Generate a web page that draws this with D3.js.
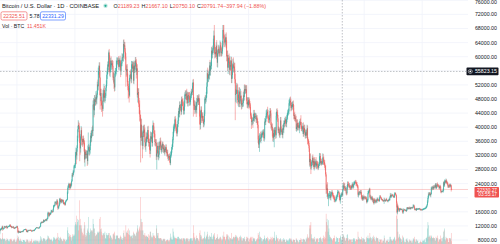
<!DOCTYPE html>
<html>
<head>
<meta charset="utf-8">
<script src="https://cdn.jsdelivr.net/npm/d3@7"></script>
<style>
  html, body { margin: 0; padding: 0; background: #fff; }
  svg { display: block; font-family: "Liberation Sans", Arial, sans-serif; }
</style>
</head>
<body>
<svg id="chart" width="500" height="244"></svg>
<script>
// BTC/USD daily closes, in thousands of USD, 2020-07-27 .. 2023-03-04 (one line per month)
var firstOpen = 9.9;
var closes = [
  11.0,10.9,11.1,11.1,11.4,
  11.8,11.1,11.2,11.2,11.7,11.8,11.6,11.75,11.7,11.9,11.4,11.6,11.8,11.8,11.9,11.9,12.3,12.0,11.75,11.9,11.5,11.7,11.65,11.75,11.35,11.45,11.3,11.55,11.5,11.7,11.65,
  11.9,11.4,10.2,10.5,10.2,10.25,10.4,10.1,10.25,10.35,10.4,10.45,10.3,10.7,10.8,10.95,10.95,10.95,11.1,10.9,10.4,10.55,10.25,10.75,10.7,10.75,10.8,10.7,10.85,10.8,
  10.6,10.55,10.55,10.65,10.8,10.6,10.65,10.9,11.05,11.3,11.4,11.55,11.45,11.45,11.5,11.35,11.35,11.5,11.75,11.9,12.8,13.0,12.95,13.1,13.05,13.05,13.65,13.3,13.45,13.55,13.8,
  13.75,13.55,14.0,14.15,15.6,15.6,14.85,15.5,15.35,15.3,15.7,16.3,16.3,16.05,15.95,16.7,17.65,17.8,17.8,18.7,18.7,18.4,18.35,19.15,18.7,17.15,17.15,17.7,18.2,19.7,
  18.8,19.2,19.45,18.7,19.15,19.35,19.15,18.3,18.55,18.25,18.05,18.8,19.15,19.25,19.45,21.35,22.85,23.1,23.85,23.5,22.75,23.8,23.25,23.7,24.7,26.5,26.3,27.05,27.35,28.9,28.95,
  29.4,32.2,33.0,32.0,34.05,36.8,39.4,40.6,40.25,38.25,35.55,34.0,37.4,39.15,36.8,36.05,35.8,36.65,36.0,35.5,30.85,33.0,32.1,32.3,32.25,32.5,30.4,33.4,34.3,34.3,33.1,
  33.5,35.5,37.6,36.9,38.3,39.25,38.9,46.4,46.5,44.8,47.9,47.4,47.2,48.6,47.9,49.2,52.1,51.6,55.9,55.9,57.4,54.1,48.9,49.7,47.0,46.3,46.2,45.2,
  49.6,48.4,50.5,48.4,48.8,48.9,51.2,52.3,54.9,55.9,57.8,57.2,61.2,59.0,55.6,56.9,58.9,57.6,58.1,58.1,57.4,54.1,54.3,52.3,51.3,55.2,55.8,55.8,57.6,58.8,58.8,
  58.7,59.0,57.1,58.2,59.1,57.9,56.0,58.1,58.1,59.8,59.9,59.8,63.6,62.9,63.2,61.4,60.0,56.2,55.7,56.5,53.8,51.7,51.1,50.1,49.0,54.0,55.0,54.9,53.6,57.8,
  57.8,56.6,57.2,53.2,57.5,56.4,57.3,58.9,58.3,55.8,56.7,49.2,49.7,49.9,46.7,46.4,43.6,42.9,37.0,40.7,37.3,37.5,34.7,38.8,38.4,39.3,38.5,35.7,34.6,35.7,37.3,
  36.7,37.6,39.2,36.9,35.5,35.8,33.6,33.4,37.4,36.7,37.3,35.5,39.1,40.5,40.2,38.3,38.1,35.8,35.5,35.6,31.7,32.5,33.7,34.7,31.6,32.2,34.7,34.5,35.9,35.0,
  33.5,33.8,34.7,35.3,33.7,34.2,33.9,32.9,33.8,33.5,34.3,33.1,32.7,32.8,31.8,31.4,31.5,31.8,30.8,29.8,32.1,32.3,33.6,34.3,35.4,37.3,39.5,40.0,40.0,42.2,41.5,
  39.9,39.2,38.2,39.7,40.9,42.8,44.6,43.8,46.3,45.6,45.6,44.4,47.8,47.1,47.0,45.9,44.7,44.7,46.8,49.3,48.9,49.3,49.5,47.7,48.9,46.9,49.1,48.9,48.8,47.1,47.2,
  48.8,49.3,50.0,49.9,51.8,52.7,46.9,46.1,46.4,44.9,45.2,46.1,44.9,47.1,48.1,47.8,47.3,48.3,47.3,43.0,40.7,43.6,44.9,42.8,42.7,43.2,42.2,41.0,41.5,43.8,
  48.1,47.7,48.2,49.2,51.5,55.3,53.8,53.9,55.0,54.7,57.5,56.0,57.4,57.4,61.7,60.9,61.5,62.0,64.3,66.0,62.2,60.7,61.3,60.9,63.1,60.3,58.3,61.0,62.2,61.8,61.3,
  61.0,63.2,62.9,61.4,61.0,61.5,63.3,67.6,66.9,64.9,64.8,64.1,64.4,65.5,63.6,60.1,60.4,56.9,58.1,59.7,58.7,56.3,57.6,57.2,58.9,53.7,54.8,57.3,57.8,56.9,
  57.2,56.5,53.6,49.2,49.4,50.5,50.6,50.5,47.7,47.1,49.3,50.1,46.7,48.3,48.9,47.6,46.2,46.8,46.7,46.9,49.0,48.6,50.8,50.4,50.8,50.7,50.7,47.5,46.5,47.1,46.2,
  47.7,47.3,46.4,45.8,43.4,43.1,41.5,41.7,41.9,41.8,42.7,43.9,42.6,43.1,43.1,43.1,42.2,42.4,41.7,40.7,36.5,35.1,36.3,36.7,36.95,36.85,37.1,37.7,38.2,37.9,38.5,
  38.7,36.9,37.3,41.6,41.4,42.4,43.8,44.0,44.4,43.5,42.4,42.2,42.1,42.6,44.6,43.9,40.6,40.0,40.1,38.4,37.0,38.3,37.3,38.3,39.2,39.1,37.7,43.2,
  44.4,43.9,42.5,39.1,39.4,38.4,37.9,38.7,41.9,39.4,38.7,38.8,37.8,39.7,39.3,41.1,40.9,41.8,42.2,41.3,41.0,42.4,42.9,44.0,44.3,44.5,46.8,47.1,47.5,47.1,45.5,
  46.3,45.8,46.4,46.6,45.5,43.2,43.4,42.3,42.7,42.2,39.5,40.1,41.2,39.9,40.5,40.4,39.7,40.8,41.5,41.4,40.5,39.7,39.5,39.5,40.4,38.1,39.2,39.7,38.6,37.6,
  38.5,38.5,37.7,39.7,36.5,36.0,35.5,34.0,30.1,31.0,29.1,29.0,29.3,30.1,31.3,29.9,30.4,28.7,30.3,29.2,29.4,30.3,29.1,29.7,29.5,29.2,28.6,29.0,29.4,31.7,31.8,
  29.8,30.4,29.7,29.9,29.9,31.4,31.1,30.2,30.1,29.1,28.4,26.6,22.5,22.2,22.6,20.4,20.5,20.55,20.6,20.7,20.7,20.0,21.1,21.2,21.5,21.0,20.7,20.3,20.1,19.8,
  19.3,19.3,19.3,20.2,20.2,20.5,21.6,21.6,21.6,20.8,19.9,19.3,20.2,20.6,20.8,21.19,20.79,22.4,23.4,23.2,23.2,22.7,22.45,22.6,21.3,21.25,22.95,23.85,23.8,23.65,23.3,
  23.3,22.95,22.8,22.6,23.3,23.15,23.8,23.15,23.15,23.95,23.95,24.4,24.45,24.3,24.1,23.85,23.35,23.2,20.85,21.15,21.5,21.4,21.55,21.35,21.55,20.25,20.05,19.55,20.3,19.8,20.05,
  20.15,19.95,19.85,20.0,19.8,18.8,19.3,19.3,21.35,21.65,21.85,22.4,20.2,20.25,19.7,19.8,20.1,19.4,19.55,18.9,18.5,19.4,19.3,18.9,18.8,19.2,19.1,19.4,19.6,19.4,
  19.3,19.05,19.65,20.35,20.15,19.95,19.55,19.4,19.45,19.15,19.05,19.15,19.4,19.2,19.05,19.25,19.55,19.35,19.15,19.05,19.15,19.2,19.55,19.35,20.1,20.75,20.3,20.6,20.8,20.65,20.5,
  20.5,20.15,20.2,21.15,21.3,20.9,20.6,18.55,15.9,17.6,17.05,16.8,16.35,16.6,16.9,16.65,16.7,16.7,16.7,16.3,15.8,16.25,16.6,16.6,16.5,16.45,16.45,16.2,16.45,17.15,
  16.95,17.1,16.9,17.1,16.95,17.1,16.85,17.2,17.15,17.15,17.1,17.2,17.75,17.8,17.35,16.65,16.75,16.75,16.45,16.9,16.8,16.8,16.8,16.85,16.85,16.9,16.7,16.55,16.65,16.6,16.55,
  16.6,16.7,16.7,16.85,16.85,16.95,16.95,17.1,17.2,17.45,17.95,18.85,19.95,20.95,20.85,21.2,21.15,20.7,21.05,22.65,22.8,22.7,22.9,22.65,23.05,23.0,23.1,23.05,23.75,22.85,23.15,
  23.75,23.5,23.45,23.35,22.95,22.75,23.25,22.95,21.8,21.65,21.85,21.8,21.8,22.2,24.35,23.5,24.55,24.65,24.3,24.85,24.45,24.2,23.95,23.2,23.15,23.55,23.5,23.15,
  23.65,23.45,22.35,22.33
];

// upper / lower wick beyond the body, in hundreds of USD
var upWick = [
  3,2,2,3,2,
  2,3,1,2,2,2,2,1,1,2,2,1,2,1,2,2,1,2,1,1,1,1,1,1,2,1,1,1,1,1,1,
  2,1,1,2,2,1,1,2,1,1,1,1,1,1,1,1,1,1,1,1,1,1,1,2,1,1,1,1,1,1,
  1,1,1,1,1,1,1,1,1,1,1,1,1,1,1,1,1,1,1,1,2,2,2,2,2,1,2,2,1,1,1,
  2,2,2,2,4,4,3,2,4,2,2,3,2,1,1,2,3,2,2,3,2,3,2,4,4,2,3,2,2,2,
  3,2,2,2,2,2,2,2,2,2,2,2,2,2,2,4,6,3,4,3,4,3,5,3,5,5,6,7,4,4,3,
  4,7,12,6,8,8,10,14,10,9,8,12,6,12,8,8,6,8,10,9,8,8,6,10,12,8,8,14,42,9,6,
  10,8,8,14,8,8,12,12,18,14,12,12,8,16,10,12,8,14,10,16,10,10,20,12,12,16,14,12,
  10,14,18,12,10,8,8,10,10,10,8,10,6,10,14,12,8,12,8,8,10,14,12,12,12,8,10,10,14,10,10,
  8,8,12,10,6,12,8,6,10,12,8,10,12,13,10,10,10,10,16,10,14,14,14,12,10,8,10,14,10,10,
  10,8,14,12,14,12,10,10,10,10,10,12,14,10,12,16,12,12,6,18,16,16,10,16,16,14,14,14,14,10,14,
  10,8,10,12,10,8,10,12,14,12,12,12,14,14,8,10,8,10,8,10,10,10,10,10,10,10,12,12,10,12,
  12,10,6,6,6,10,8,10,8,6,8,8,6,8,8,6,6,6,8,8,10,8,8,8,12,14,10,10,10,8,10,
  10,10,10,10,10,10,8,12,10,10,10,10,8,10,10,12,14,10,8,6,12,10,10,14,10,12,8,8,10,12,10,
  8,10,8,10,8,8,10,16,12,12,8,12,10,12,10,10,10,10,10,8,20,10,10,10,10,10,10,10,8,10,
  5,10,8,8,12,10,16,10,8,14,10,16,10,12,10,12,10,12,8,14,30,12,14,14,10,16,14,10,12,10,10,
  10,14,10,10,12,8,12,14,14,21,14,12,10,10,14,10,12,14,14,8,12,14,10,14,12,10,12,8,16,20,
  14,10,18,16,14,14,20,18,16,14,12,12,12,16,20,14,14,12,14,8,10,14,12,14,10,12,12,12,10,14,12,
  8,8,8,10,10,8,8,8,8,10,10,10,10,10,10,8,8,10,10,10,10,10,14,16,10,18,10,8,8,6,8,
  6,8,10,10,6,8,10,10,8,14,14,6,10,10,8,8,10,8,8,10,10,10,14,16,8,8,10,10,
  8,10,10,10,8,6,12,12,10,10,8,6,8,10,10,8,8,8,8,8,8,10,10,8,8,8,10,10,10,12,10,
  6,8,8,8,10,8,6,10,6,10,10,8,10,10,8,8,8,10,8,10,20,10,6,6,8,10,8,10,10,8,
  6,8,8,10,8,6,6,6,8,14,16,10,12,6,6,10,8,12,8,12,6,6,12,8,8,8,10,6,6,10,8,
  8,8,6,6,4,12,10,6,6,6,6,8,6,12,12,18,8,6,8,12,12,10,6,4,6,6,6,6,4,6,
  6,4,4,4,6,6,6,4,4,4,6,6,6,6,4,4,5,12,8,10,8,10,6,6,4,4,6,8,6,8,6,
  8,4,6,6,4,4,6,4,4,6,6,4,4,6,6,4,6,4,4,4,4,4,4,6,6,6,4,6,4,6,4,
  4,4,4,4,4,4,4,4,6,4,4,4,4,6,4,4,4,4,4,4,6,4,4,4,4,4,4,6,4,4,
  2,2,4,4,4,2,2,2,2,2,2,2,6,4,2,2,2,4,2,2,2,2,2,2,4,6,4,2,4,2,4,
  4,2,2,4,2,2,2,1,4,5,4,2,2,4,2,2,2,2,2,2,2,2,4,2,2,2,2,2,2,2,
  2,2,2,2,4,2,2,2,2,2,2,2,4,2,2,2,2,2,2,2,2,2,2,2,2,2,2,2,2,2,2,
  2,2,2,2,2,2,2,2,4,2,2,4,6,6,4,4,4,4,2,4,4,4,4,6,4,4,6,4,4,4,4,
  4,6,4,4,2,4,4,4,2,2,2,2,2,4,2,4,6,4,4,6,4,4,4,4,2,2,4,4,
  4,2,2,2
];
var downWick = [
  3,4,3,2,2,
  2,5,2,2,1,1,3,1,2,1,3,1,1,1,1,1,1,2,1,1,2,1,1,1,1,1,2,2,1,1,1,
  1,1,2,4,2,2,1,1,1,1,1,1,1,1,1,1,1,1,1,2,2,1,1,1,1,1,1,1,1,1,
  1,3,1,1,1,1,1,1,1,1,1,1,1,1,1,1,1,1,1,1,1,2,2,2,2,2,1,3,2,2,2,
  1,2,2,2,2,3,4,2,3,3,2,3,3,3,2,1,3,5,4,2,3,5,5,3,4,6,4,3,2,2,
  3,5,2,2,3,2,3,2,2,3,4,2,2,2,2,1,3,6,3,5,6,3,6,3,2,2,5,4,6,4,5,
  6,10,8,25,12,10,8,8,8,12,52,18,12,10,20,10,14,10,8,24,9,20,10,10,10,12,14,10,12,12,12,
  10,10,8,12,10,10,14,14,14,20,14,14,10,10,12,14,8,10,12,10,20,50,39,15,10,20,14,22,
  6,12,10,12,16,14,6,10,6,12,8,16,10,10,10,14,14,10,14,10,10,8,14,14,12,10,10,12,8,8,10,
  8,12,8,10,10,10,18,12,8,8,10,10,12,20,8,20,10,47,14,10,10,12,30,18,20,4,10,12,12,10,
  10,10,10,8,10,10,10,12,12,20,10,8,22,14,10,26,20,10,70,22,12,12,35,10,12,12,12,14,10,16,10,
  10,8,10,12,10,10,12,20,10,8,8,10,10,10,10,12,10,10,10,8,10,37,10,10,8,10,10,8,10,10,
  6,10,8,6,8,10,8,6,10,6,6,6,10,10,8,10,8,8,8,5,6,8,6,8,6,10,10,12,12,6,12,
  10,8,8,8,10,8,10,10,10,10,8,10,8,10,10,10,10,12,10,10,10,10,12,10,10,10,10,10,10,10,10,
  8,10,10,8,8,8,39,12,12,12,10,8,20,10,12,10,10,10,10,22,15,12,10,16,10,10,10,10,10,10,
  6,10,10,10,8,20,12,10,10,10,12,12,14,10,10,12,14,10,10,10,12,12,10,10,10,10,12,14,10,10,10,
  10,10,10,12,10,8,8,10,16,21,10,14,12,10,12,14,14,10,18,12,10,14,16,12,10,12,12,10,8,12,
  14,10,12,72,20,26,10,10,10,10,14,10,10,10,10,10,12,10,10,10,10,12,10,10,10,10,10,10,10,10,10,
  6,8,10,8,10,8,20,10,10,20,8,8,10,10,8,8,10,10,10,10,10,10,10,33,10,10,14,10,8,6,8,
  6,8,10,8,8,8,8,10,10,10,10,10,10,10,10,8,10,10,8,10,10,12,8,30,10,10,10,8,
  12,8,10,8,8,8,8,10,10,10,8,8,8,10,8,10,10,8,8,10,10,10,10,8,8,8,8,8,8,10,10,
  8,8,8,8,8,10,8,6,6,8,6,8,10,8,8,6,6,14,8,8,10,8,6,8,14,8,8,8,8,8,
  8,10,8,8,14,8,8,10,10,14,10,23,10,8,8,8,10,6,10,10,6,6,8,10,10,10,8,6,6,4,10,
  4,6,6,4,4,6,18,8,6,6,6,6,14,10,20,8,6,29,10,6,8,6,8,8,6,6,6,6,6,10,
  6,6,4,4,10,6,4,4,4,6,6,4,10,4,4,6,4,4,6,10,6,8,4,6,4,6,4,6,4,6,6,
  6,6,6,4,4,4,4,6,6,4,4,4,4,4,8,4,4,4,6,8,6,6,6,4,4,6,6,4,4,6,4,
  4,4,4,2,4,4,4,6,4,4,4,4,4,4,4,4,4,4,6,4,4,4,4,4,4,4,4,6,4,4,
  2,2,2,2,2,2,2,2,2,2,2,2,9,2,2,2,2,2,2,2,4,2,2,2,2,2,2,4,2,2,2,
  2,2,2,2,2,2,2,13,3,6,6,4,4,4,2,2,2,2,2,2,3,4,2,2,2,2,2,2,2,2,
  2,2,2,2,2,2,2,2,2,2,2,2,2,2,2,2,2,2,2,2,2,2,2,2,2,2,2,2,2,2,2,
  2,2,2,2,2,2,2,2,2,2,2,2,4,4,2,4,4,4,6,2,2,6,4,4,4,4,4,2,4,4,4,
  4,4,4,2,4,4,4,2,4,4,2,2,2,4,4,4,4,2,2,4,4,4,4,4,4,4,4,4,
  2,2,6,1
];
// daily volume, thousands of BTC
var volumes = [
  14,10,9,8,8,
  10,18,9,8,9,9,8,6,5,7,10,8,8,6,5,5,8,9,8,7,9,5,5,6,8,7,9,6,4,4,6,
  8,10,14,12,9,6,6,9,6,6,5,4,4,7,7,7,6,5,4,4,8,6,8,7,5,3,3,6,5,5,
  6,9,3,3,5,6,5,5,7,6,4,6,6,5,6,5,3,3,6,6,13,11,8,6,5,9,10,10,9,8,6,
  5,7,8,9,14,13,11,8,10,8,7,9,7,5,5,7,11,12,10,9,7,9,9,11,10,18,12,7,6,10,
  12,10,9,8,6,5,6,9,9,7,8,5,5,7,8,22,27,18,12,13,16,12,15,11,6,12,16,13,14,16,14,
  30,35,32,45,30,35,40,38,22,30,69,40,30,25,30,20,18,14,16,25,35,30,15,12,14,18,22,25,43,20,15,
  18,20,25,22,22,20,22,40,32,25,25,18,13,14,15,16,20,18,20,18,20,40,43,24,20,25,15,14,
  18,16,18,15,20,10,9,15,18,14,15,15,18,10,18,14,14,12,10,7,9,16,16,18,20,14,8,9,14,14,14,
  14,10,10,8,10,12,14,12,8,10,7,10,18,22,12,14,12,30,18,20,18,22,25,16,15,22,14,12,13,13,
  15,10,14,20,18,16,16,14,13,20,18,25,30,22,20,25,28,22,74,40,35,22,35,22,15,15,14,18,14,12,13,
  14,12,12,16,10,7,14,20,20,14,12,10,12,18,14,14,12,14,10,10,25,30,18,14,18,10,9,10,10,10,
  10,8,6,6,8,9,8,9,8,5,5,7,6,8,7,7,5,5,7,10,17,12,9,7,8,25,20,14,10,12,10,
  10,9,10,9,12,12,12,8,10,9,8,8,10,8,6,10,10,9,8,10,8,5,9,10,8,10,9,5,5,8,9,
  10,9,10,6,6,10,30,18,10,12,8,6,14,10,10,10,8,6,5,18,22,15,12,14,8,8,10,10,9,12,
  20,10,8,12,14,20,16,12,8,8,14,12,12,12,18,9,8,12,14,16,18,12,8,7,10,10,16,12,9,8,8,
  10,12,12,10,8,6,8,14,12,20,12,12,8,6,12,16,14,16,14,8,6,12,10,10,8,18,8,8,10,12,
  12,10,12,15,12,14,12,10,12,10,6,6,12,12,14,10,12,6,6,10,10,9,12,8,5,5,8,12,12,10,10,
  5,4,8,10,12,10,12,6,5,12,10,9,10,8,5,5,6,8,8,10,18,15,8,20,12,12,10,10,5,5,8,
  8,8,10,14,8,6,10,10,8,12,10,6,5,8,8,8,12,10,6,8,12,10,10,20,10,6,6,15,
  12,10,8,10,5,5,8,8,10,8,6,4,5,8,7,10,7,8,4,4,6,8,6,6,7,5,8,10,8,8,10,
  8,6,4,6,7,8,7,7,3,4,10,8,7,6,5,3,4,7,7,7,10,8,4,4,8,9,8,8,7,4,
  5,10,8,12,16,10,10,12,30,25,30,35,16,10,8,10,8,10,12,8,4,5,10,8,8,10,9,4,4,10,10,
  12,10,8,5,4,10,14,10,8,12,10,20,48,35,40,30,20,38,25,15,12,12,10,10,8,6,8,10,10,14,
  10,5,4,5,12,10,10,10,4,4,10,10,14,12,8,6,11.45,14,16,14,12,10,6,6,10,10,15,16,10,6,6,
  8,8,8,7,8,4,4,8,8,10,10,8,5,5,8,8,8,7,20,12,8,10,8,8,8,12,8,6,10,8,10,
  8,8,4,4,5,12,10,10,14,10,8,10,18,12,10,10,6,8,12,10,14,12,8,6,5,10,12,10,10,10,
  6,4,4,8,8,7,8,3,3,6,6,6,14,10,3,3,6,6,6,6,8,4,4,6,12,12,8,8,6,6,6,
  8,8,10,12,6,6,8,45,55,40,20,10,12,16,12,10,9,8,4,6,14,12,10,6,4,3,4,8,8,10,
  6,6,3,4,8,6,6,6,6,3,3,6,10,8,8,12,5,4,8,8,5,6,6,2,2,2,4,6,4,4,3,
  3,6,6,6,6,8,3,4,10,10,12,25,35,30,12,14,12,14,10,14,12,10,10,12,10,10,10,6,6,12,10,
  10,14,10,4,6,8,8,8,14,10,5,5,10,12,20,22,25,8,6,12,10,10,8,10,4,4,10,10,
  10,8,18,5
];

var startDate = "2020-07-27";
var endDate = "2023-03-04";
var priceTicks = [8000, 12000, 16000, 20000, 24000, 28000, 32000, 36000, 40000, 44000, 48000, 52000, 56000, 60000, 64000, 68000, 72000, 76000];
var gridDates = ["2020-09-01", "2021-01-01", "2021-04-01", "2021-09-01", "2022-01-01", "2022-04-01", "2022-09-01", "2023-01-01"];
var crossDate = "2022-07-17";
var crossPrice = 55823.15;
var lastPrice = 22330.27;
var countdown = "03:55:17";

var UP = "#26a69a", DOWN = "#ef5350";

var svg = d3.select("#chart");
var parse = d3.utcParse("%Y-%m-%d");
var DAY = 864e5;
var t0 = parse(startDate);

var x = d3.scaleUtc().domain([t0, parse(endDate)]).range([-0.2, 451.7]);
var y = d3.scaleLinear().domain([8000, 76000]).range([240, 0.3]);
var vh = d3.scaleLinear().domain([0, 70]).range([0, 44.8]);
var volBase = 244.5;
var plotRight = 468;

svg.append("rect").attr("width", 500).attr("height", 244).attr("fill", "#fff");

// grid
var grid = svg.append("g").attr("stroke", "#f0f3fa").attr("stroke-width", 0.8);
grid.selectAll(".hg").data(priceTicks).enter().append("line")
    .attr("x1", 0).attr("x2", plotRight)
    .attr("y1", function(d) { return y(d); }).attr("y2", function(d) { return y(d); });
grid.selectAll(".vg").data(gridDates).enter().append("line")
    .attr("x1", function(d) { return x(parse(d)); }).attr("x2", function(d) { return x(parse(d)); })
    .attr("y1", 0).attr("y2", 244);

// build candles
var candles = closes.map(function(c, i) {
  var o = i === 0 ? firstOpen : closes[i - 1];
  return {
    date: new Date(t0.getTime() + i * DAY),
    o: o * 1000, c: c * 1000,
    h: Math.max(o, c) * 1000 + upWick[i] * 100,
    l: Math.min(o, c) * 1000 - downWick[i] * 100,
    v: volumes[i]
  };
});

// volume
svg.append("g").selectAll("rect").data(candles).enter().append("rect")
    .attr("x", function(d) { return x(d.date) - 0.25; })
    .attr("width", 0.5)
    .attr("y", function(d) { return volBase - vh(d.v); })
    .attr("height", function(d) { return vh(d.v); })
    .attr("fill", function(d) { return d.c >= d.o ? UP : DOWN; })
    .attr("fill-opacity", 0.45);

// last price line
svg.append("line")
    .attr("x1", 0).attr("x2", plotRight)
    .attr("y1", y(lastPrice)).attr("y2", y(lastPrice))
    .attr("stroke", DOWN).attr("stroke-opacity", 0.35).attr("stroke-width", 0.8);

// candles
var cg = svg.append("g");
cg.selectAll("line").data(candles).enter().append("line")
    .attr("x1", function(d) { return x(d.date); }).attr("x2", function(d) { return x(d.date); })
    .attr("y1", function(d) { return y(d.h); }).attr("y2", function(d) { return y(d.l); })
    .attr("stroke", function(d) { return d.c >= d.o ? UP : DOWN; })
    .attr("stroke-width", 0.45);
cg.selectAll("rect").data(candles).enter().append("rect")
    .attr("x", function(d) { return x(d.date) - 0.3; })
    .attr("width", 0.6)
    .attr("y", function(d) { return y(Math.max(d.o, d.c)); })
    .attr("height", function(d) { return Math.max(0.4, Math.abs(y(d.o) - y(d.c))); })
    .attr("fill", function(d) { return d.c >= d.o ? UP : DOWN; });

// crosshair
var cx = x(parse(crossDate)), cy = y(crossPrice);
svg.append("line").attr("x1", cx).attr("x2", cx).attr("y1", 0).attr("y2", 244)
    .attr("stroke", "#9598a1").attr("stroke-width", 0.6).attr("stroke-dasharray", "1.5,1.5");
svg.append("line").attr("x1", 0).attr("x2", 466).attr("y1", cy).attr("y2", cy)
    .attr("stroke", "#9598a1").attr("stroke-width", 0.6).attr("stroke-dasharray", "1.5,1.5");

// price axis labels (the top one sits on the edge, clipped as in the original)
svg.append("g").selectAll("text")
    .data(priceTicks.filter(function(d) {
      return Math.abs(y(d) - cy) > 6 && Math.abs(y(d) - y(lastPrice) - 3.5) > 7;
    }))
    .enter().append("text")
    .attr("x", 497).attr("y", function(d) { return Math.max(y(d) + 1.9, 3.6); })
    .attr("text-anchor", "end").attr("font-size", 5.3).attr("fill", "#131722")
    .text(function(d) { return d3.format(".2f")(d); });

// crosshair price label
svg.append("rect").attr("x", 466.5).attr("y", cy - 3.8).attr("width", 32).attr("height", 7.6)
    .attr("fill", "#131722").attr("rx", 0.8);
svg.append("circle").attr("cx", 470.3).attr("cy", cy).attr("r", 2)
    .attr("fill", "none").attr("stroke", "#fff").attr("stroke-width", 0.5);
svg.append("circle").attr("cx", 470.3).attr("cy", cy).attr("r", 0.9).attr("fill", "#fff");
svg.append("text").attr("x", 497).attr("y", cy + 1.9).attr("text-anchor", "end")
    .attr("font-size", 5.3).attr("fill", "#fff").text(d3.format(".2f")(crossPrice));

// last price label
var ly = y(lastPrice);
svg.append("rect").attr("x", 474.5).attr("y", ly - 2.5).attr("width", 24.5).attr("height", 10.5)
    .attr("fill", DOWN).attr("rx", 0.8);
svg.append("text").attr("x", 497).attr("y", ly + 2.2).attr("text-anchor", "end")
    .attr("font-size", 4.8).attr("fill", "#fff").text(d3.format(".2f")(lastPrice));
svg.append("text").attr("x", 497).attr("y", ly + 7).attr("text-anchor", "end")
    .attr("font-size", 4.8).attr("fill", "#fff").text(countdown);

// legend
var lg = svg.append("g").attr("font-size", 5.2);
lg.append("text").attr("x", 2).attr("y", 7.8).attr("fill", "#131722").attr("font-size", 5.75)
    .text("Bitcoin / U.S. Dollar · 1D · COINBASE");
lg.append("circle").attr("cx", 105.5).attr("cy", 5.8).attr("r", 2.2).attr("fill", "#22ab94").attr("fill-opacity", 0.3);
lg.append("circle").attr("cx", 105.5).attr("cy", 5.8).attr("r", 1.1).attr("fill", "#22ab94");

var ohlc = [["O", "21189.23"], ["H", "21667.10"], ["L", "20750.10"], ["C", "20791.74"], ["", "−397.94 (−1.88%)"]];
var t = lg.append("text").attr("x", 113.5).attr("y", 7.8).attr("font-size", 5.35);
ohlc.forEach(function(p, i) {
  t.append("tspan").attr("fill", "#131722").attr("dx", i ? 2 : 0).text(p[0]);
  t.append("tspan").attr("fill", DOWN).text(p[1]);
});

lg.append("rect").attr("x", 1).attr("y", 11.8).attr("width", 26).attr("height", 8.2).attr("rx", 1.5)
    .attr("fill", "#fff").attr("stroke", DOWN).attr("stroke-width", 0.6);
lg.append("text").attr("x", 14).attr("y", 17.7).attr("text-anchor", "middle").attr("fill", DOWN).text("22325.51");
lg.append("text").attr("x", 29.5).attr("y", 17.7).attr("fill", "#131722").text("5.78");
lg.append("rect").attr("x", 40.5).attr("y", 11.8).attr("width", 25).attr("height", 8.2).attr("rx", 1.5)
    .attr("fill", "#fff").attr("stroke", "#2962ff").attr("stroke-width", 0.6);
lg.append("text").attr("x", 53).attr("y", 17.7).attr("text-anchor", "middle").attr("fill", "#2962ff").text("22331.29");

lg.append("text").attr("x", 2).attr("y", 28).attr("fill", "#131722").text("Vol · BTC");
lg.append("text").attr("x", 27).attr("y", 28).attr("fill", DOWN).text("11.451K");
</script>
</body>
</html>
